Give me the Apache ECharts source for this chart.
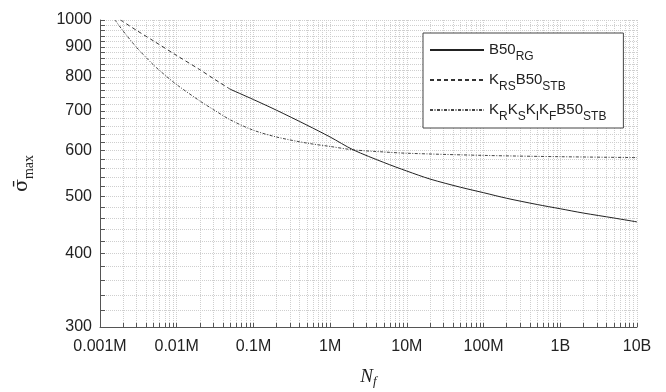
<!DOCTYPE html>
<html>
<head>
<meta charset="utf-8">
<script src="https://cdn.jsdelivr.net/npm/echarts@6/dist/echarts.min.js"></script>
<style>
  html, body { margin: 0; padding: 0; background: #fff; }
  #chart { width: 666px; height: 392px; }
</style>
</head>
<body>
<div id="chart"></div>
<script>
// Axis ticks and labels
const xLabelValues = [1e3, 1e4, 1e5, 1e6, 1e7, 1e8, 1e9, 1e10];
const xLabelTexts = ['0.001M', '0.01M', '0.1M', '1M', '10M', '100M', '1B', '10B'];
const yLabelValues = [300, 400, 500, 600, 700, 800, 900, 1000];
const yGridValues = [300, 320, 340, 360, 380, 400, 420, 440, 460, 480, 500, 520, 540, 560, 580,
  600, 620, 640, 660, 680, 700, 720, 740, 760, 780, 800, 820, 840, 860, 880, 900, 920, 940, 960, 980, 1000];

// B50_RG
const nfRG = [5e4, 1e5, 2e5, 5e5, 1e6, 2e6, 5e6, 1e7, 2e7, 5e7, 1e8, 2e8, 5e8, 1e9, 2e9, 5e9, 1e10];
const sigmaRG = [762, 732, 702, 662, 632, 601, 572, 553, 536, 519, 508, 497, 485, 477, 469, 460, 453];

// K_RS B50_STB
const nfRS = [1850, 3e3, 5e3, 1e4, 2e4, 3e4, 5e4];
const sigmaRS = [1000, 960, 921, 870, 823, 795, 762];

// K_R K_S K_I K_F B50_STB
const nfRSIF = [1570, 2e3, 3e3, 5e3, 7e3, 1e4, 2e4, 3e4, 5e4, 1e5, 2e5, 5e5, 1e6, 2e6, 5e6, 1e7, 1e8, 1e9, 1e10];
const sigmaRSIF = [1000, 958, 898, 838, 806, 776, 728, 704, 676, 649, 632, 617, 609, 601, 596, 593, 588, 585, 583];

const seriesNames = ['B50RG', 'KRSB50STB', 'KRKSKIKFB50STB'];
const legendRich = {
  'B50RG': '{m|B50}{s|RG}',
  'KRSB50STB': '{m|K}{s|RS}{m|B50}{s|STB}',
  'KRKSKIKFB50STB': '{m|K}{s|R}{m|K}{s|S}{m|K}{s|I}{m|K}{s|F}{m|B50}{s|STB}'
};

// Minor grid along x: 1..9 per decade
const xGridValues = [];
for (let e = 3; e < 10; e++) {
  for (let k = 1; k <= 9; k++) xGridValues.push(k * Math.pow(10, e));
}
xGridValues.push(1e10);

const pairs = (xs, ys) => xs.map((x, i) => [x, ys[i]]);

function xLabel(v) {
  for (let i = 0; i < xLabelValues.length; i++) {
    if (Math.abs(Math.log10(v) - Math.log10(xLabelValues[i])) < 1e-6) return xLabelTexts[i];
  }
  return '';
}
function yLabel(v) {
  return String(Math.round(v));
}

const SANS = 'Liberation Sans, Arial, sans-serif';
const SERIF = 'DejaVu Serif, Liberation Serif, serif';
const gridLine = { color: '#cfcfcf', width: 1, type: [1, 1] };

const chart = echarts.init(document.getElementById('chart'), null, { renderer: 'canvas' });
chart.setOption({
  animation: false,
  backgroundColor: '#fff',
  grid: { left: 100, right: 29, top: 20, bottom: 65, containLabel: false, outerBoundsMode: 'none' },
  xAxis: {
    type: 'log', logBase: 10, min: 1e3, max: 1e10,
    name: '{n|N}{f|f}', nameLocation: 'middle', nameGap: 39,
    nameTextStyle: {
      rich: {
        n: { fontFamily: 'Liberation Serif, serif', fontStyle: 'italic', fontSize: 19, lineHeight: 22, color: '#222' },
        f: { fontFamily: 'Liberation Serif, serif', fontStyle: 'italic', fontSize: 13, lineHeight: 14, padding: [10, 0, 0, 0], color: '#222' }
      }
    },
    axisLine: { show: true, lineStyle: { color: '#555', width: 1 } },
    axisTick: { show: true, inside: true, length: 4, customValues: xGridValues, lineStyle: { color: '#555' } },
    axisLabel: { customValues: xLabelValues, formatter: xLabel, margin: 12, fontFamily: SANS, fontSize: 16, color: '#222' },
    splitLine: { show: true, lineStyle: gridLine },
    minorTick: { show: false }, minorSplitLine: { show: false }
  },
  yAxis: {
    type: 'log', logBase: 10, min: 300, max: 1000,
    name: '{s|σ̄}{m|max}', nameLocation: 'middle', nameGap: 67,
    nameTextStyle: {
      rich: {
        s: { fontFamily: SERIF, fontSize: 19, lineHeight: 22, color: '#222' },
        m: { fontFamily: 'Liberation Serif, serif', fontSize: 14, lineHeight: 14, padding: [14, 0, 0, 0], color: '#222' }
      }
    },
    axisLine: { show: true, lineStyle: { color: '#555', width: 1 } },
    axisTick: { show: true, inside: true, length: 5, customValues: yGridValues, lineStyle: { color: '#555' } },
    axisLabel: { customValues: yLabelValues, formatter: yLabel, margin: 8, fontFamily: SANS, fontSize: 16, color: '#222' },
    splitLine: { show: true, lineStyle: gridLine },
    minorTick: { show: false }, minorSplitLine: { show: false }
  },
  legend: {
    orient: 'vertical', left: 423, top: 33,
    data: seriesNames,
    itemWidth: 54, itemHeight: 14, itemGap: 4,
    padding: [4, 17, 5, 6],
    backgroundColor: '#fff', borderColor: '#444', borderWidth: 1, borderRadius: 0,
    itemStyle: { opacity: 0, borderWidth: 0 },
    formatter: (name) => legendRich[name],
    textStyle: {
      rich: {
        m: { fontFamily: SANS, fontSize: 15, lineHeight: 18, color: '#222' },
        s: { fontFamily: SANS, fontSize: 12, lineHeight: 12, padding: [14, 0, 0, 0], color: '#222' }
      }
    }
  },
  series: [
    {
      name: 'KRKSKIKFB50STB', type: 'line', data: pairs(nfRSIF, sigmaRSIF),
      symbol: 'none', smooth: 0.3, z: 2, color: '#444',
      lineStyle: { color: '#444', width: 1, type: [3, 1.5, 1, 1.5] }
    },
    {
      name: 'KRSB50STB', type: 'line', data: pairs(nfRS, sigmaRS),
      symbol: 'none', smooth: 0.3, z: 3, color: '#333',
      lineStyle: { color: '#333', width: 1, type: [4, 3] }
    },
    {
      name: 'B50RG', type: 'line', data: pairs(nfRG, sigmaRG),
      symbol: 'none', smooth: 0.3, z: 4, color: '#222',
      lineStyle: { color: '#222', width: 1, type: 'solid' }
    }
  ]
});
</script>
</body>
</html>
